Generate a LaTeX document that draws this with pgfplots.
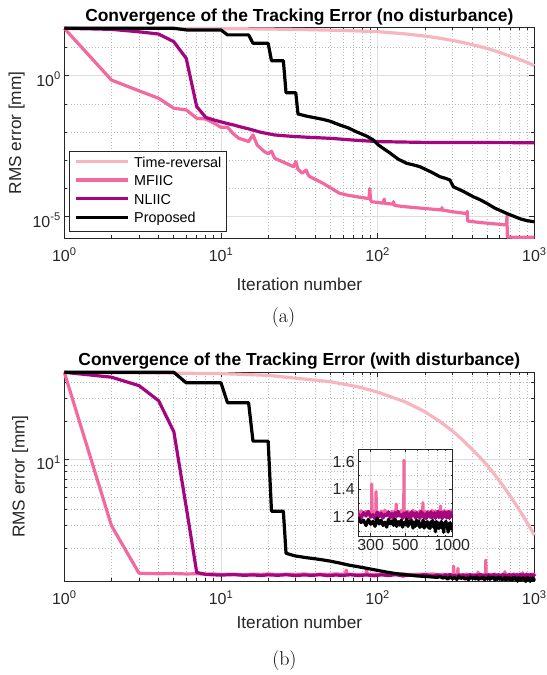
\documentclass[border=0pt]{standalone}
\usepackage{fontspec}
\newfontfamily\arialfont{Liberation Sans}
\usepackage{pgfplots}
\usepackage{pgfplotstable}
\pgfplotsset{compat=1.18}

\definecolor{trcol}{HTML}{F7B5C0}
\definecolor{mfcol}{HTML}{F2689F}
\definecolor{nlcol}{HTML}{A5067F}
\definecolor{axcol}{HTML}{262626}

% (b) series, shared by the main axis and the inset
\pgfplotstableread{
x y
1 48.4
2 3.0
3 1.265
4 1.255
5 1.26
6 1.25
7 1.255
8 1.245
9 1.25
10 1.24
12 1.245
14 1.235
16 1.245
18 1.24
20 1.25
23 1.235
26 1.245
30 1.24
34 1.25
38 1.235
43 1.245
48 1.24
54 1.25
62 1.24
63 1.34
64 1.24
67 1.245
75 1.235
84 1.24
85 1.33
86 1.24
95 1.245
105 1.235
118 1.245
130 1.24
145 1.25
160 1.235
180 1.245
200 1.24
225 1.25
240 1.235
250 1.214
260 1.246
270 1.224
280 1.242
290 1.218
300 1.236
304 1.23
305 1.44
306 1.23
310 1.248
320 1.220
324 1.23
325 1.385
326 1.23
330 1.240
340 1.214
350 1.244
360 1.226
370 1.250
380 1.228
390 1.234
400 1.216
410 1.242
420 1.222
430 1.246
436 1.23
437 1.295
438 1.23
440 1.220
450 1.238
460 1.214
470 1.248
480 1.230
489 1.23
490 1.61
491 1.23
500 1.240
510 1.218
520 1.244
530 1.224
540 1.236
550 1.216
560 1.250
570 1.226
580 1.242
590 1.220
600 1.234
610 1.214
620 1.246
630 1.228
640 1.240
647 1.23
648 1.305
649 1.23
650 1.222
660 1.248
670 1.218
680 1.238
690 1.224
700 1.244
710 1.216
720 1.236
730 1.226
740 1.250
750 1.220
760 1.242
770 1.230
780 1.246
790 1.214
800 1.238
810 1.222
820 1.248
830 1.228
839 1.23
840 1.28
841 1.23
850 1.244
860 1.218
870 1.234
880 1.224
890 1.250
900 1.216
910 1.240
920 1.226
930 1.244
940 1.220
950 1.238
960 1.216
970 1.244
980 1.228
990 1.250
1000 1.222
}\mfb

\pgfplotstableread{
x y
1 48.4
2 44.3
3 38
4 28.9
5 16.5
6 4.2
7 1.285
8 1.24
9 1.23
10 1.225
12 1.235
14 1.22
16 1.228
18 1.215
20 1.23
23 1.22
26 1.232
30 1.215
34 1.228
38 1.218
43 1.233
48 1.212
54 1.226
60 1.218
67 1.232
75 1.214
85 1.228
95 1.21
105 1.23
118 1.215
130 1.235
145 1.205
160 1.228
180 1.212
200 1.236
225 1.2
240 1.23
250 1.224
260 1.191
270 1.233
280 1.209
290 1.242
300 1.200
310 1.218
320 1.188
330 1.236
340 1.203
350 1.230
360 1.194
370 1.221
380 1.212
390 1.239
400 1.197
410 1.227
420 1.188
430 1.233
440 1.206
450 1.242
460 1.209
470 1.218
480 1.191
490 1.230
500 1.200
510 1.236
520 1.197
530 1.224
540 1.188
550 1.239
560 1.212
570 1.227
580 1.194
590 1.233
600 1.203
610 1.221
620 1.191
630 1.242
640 1.206
650 1.230
660 1.197
670 1.218
680 1.188
690 1.236
700 1.209
710 1.227
720 1.200
730 1.239
740 1.194
750 1.224
760 1.203
770 1.233
780 1.191
790 1.221
800 1.206
810 1.242
820 1.197
830 1.230
840 1.212
850 1.236
860 1.188
870 1.224
880 1.200
890 1.239
900 1.209
910 1.233
920 1.194
930 1.218
940 1.203
950 1.242
960 1.191
970 1.227
980 1.206
990 1.233
1000 1.197
}\nlb

\pgfplotstableread{
x y
1 48.4
5 48.4
6 40
10 40
11 27.9
15 27.9
16 13.9
20 13.9
21 3.9
25 3.9
26 1.82
28 1.77
30 1.73
32 1.71
35 1.68
40 1.645
45 1.61
50 1.575
57 1.525
65 1.47
75 1.425
85 1.385
92 1.36
101 1.33
115 1.29
130 1.26
153 1.23
180 1.205
210 1.19
240 1.175
250 1.193
260 1.161
270 1.178
280 1.140
290 1.184
300 1.149
310 1.170
320 1.134
330 1.194
340 1.151
350 1.179
360 1.140
370 1.164
380 1.128
390 1.184
400 1.152
410 1.173
420 1.141
430 1.186
440 1.133
450 1.168
460 1.143
470 1.177
480 1.128
490 1.162
500 1.145
510 1.186
520 1.133
530 1.172
540 1.150
550 1.177
560 1.121
570 1.163
580 1.134
590 1.179
600 1.144
610 1.172
620 1.126
630 1.153
640 1.135
650 1.180
660 1.121
670 1.162
680 1.137
690 1.168
700 1.126
710 1.157
720 1.118
730 1.167
740 1.138
750 1.177
760 1.127
770 1.148
780 1.095
790 1.168
800 1.129
810 1.160
820 1.118
830 1.149
840 1.137
850 1.169
860 1.120
870 1.154
880 1.090
890 1.160
900 1.129
910 1.171
920 1.131
930 1.141
940 1.092
950 1.155
960 1.120
970 1.161
980 1.115
990 1.146
1000 1.104
}\prb

\pgfplotsset{
  mlab/.style={
    scale only axis,
    xmin=1, xmax=1000,
    clip=false,
    axis line style={axcol, line width=0.7bp},
    tick style={axcol, line width=0.7bp},
    major tick length=5bp, minor tick length=3bp,
    tick align=inside,
    xtick={1,10,100,1000},
    xticklabels={10\textsuperscript{0},10\textsuperscript{1},10\textsuperscript{2},10\textsuperscript{3}},
    minor xtick={2,3,4,5,6,7,8,9,20,30,40,50,60,70,80,90,200,300,400,500,600,700,800,900},
    grid=both,
    major grid style={draw=black!13, line width=0.7bp},
    minor grid style={draw=black!28, line width=0.7bp, dash pattern=on 0.7bp off 2.4bp},
    ticklabel style={font=\arialfont\fontsize{16}{17}\selectfont, text=axcol},
    xticklabel style={yshift=-6bp},
    yticklabel style={yshift=-3.5bp},
    every axis plot/.append style={line width=3.2bp, line join=round},
  },
}
\tikzset{
  titlefont/.style={font=\arialfont\bfseries\fontsize{17.5}{18}\selectfont},
  labfont/.style={font=\arialfont\fontsize{17.3}{18}\selectfont, text=axcol},
}

\begin{document}
\begin{tikzpicture}
\useasboundingbox (0,0) rectangle (547bp,-675bp);

% ---------- (a) no disturbance ----------
\begin{axis}[mlab, xmode=log, ymode=log,
  at={(64.3bp,-238.3bp)}, anchor=south west,
  width=470.1bp, height=211bp,
  ymin=1.71e-6, ymax=52,
  ytick={1e-5,1},
  yticklabels={10\textsuperscript{-5},10\textsuperscript{0}},
  minor ytick={1e-4,1e-3,1e-2,1e-1,10},
  legend cell align=left,
  legend style={at={(0.0106,0.4152)}, anchor=north west,
    draw=axcol, line width=0.7bp, fill=white,
    font=\arialfont\fontsize{14.4}{15}\selectfont,
    inner xsep=5bp, inner ysep=5.5bp, column sep=4.4bp, row sep=4.9bp,
    nodes={inner sep=0pt, text height=10.5bp, text depth=3.2bp}},
  legend image code/.code={\draw[#1] (0bp,2bp) -- (52bp,2bp);},
]
\addplot[trcol] coordinates {(1,48) (2,47.9) (5,47.4) (10,46.7) (20,45.2) (30,43.8) (50,41.2) (70,39.0) (100,36.4) (150,30.4) (200,25.4) (250,21.2) (300,17.85) (350,15.0) (400,12.6) (450,10.8) (500,9.2) (550,7.85) (600,6.7) (650,5.7) (700,4.94) (750,4.34) (800,3.81) (850,3.35) (900,2.94) (950,2.58) (1000,2.26)};
\addlegendentry{Time-reversal}
\addplot[mfcol] coordinates {(1,48) (2,0.70) (3,0.29) (4,0.158) (5,0.07) (6,0.061) (7,0.031) (8,0.029) (9,0.021) (10,0.0148) (11,0.015) (12,0.0086) (13,0.006) (14,0.0053) (15,0.0046) (16,0.0079) (17,0.0035) (18,0.0026) (19,0.002) (20,0.0017) (21,0.0021) (22,0.00118) (24,0.00095) (26,0.00078) (28,0.00065) (29,0.00059) (30,0.00089) (31,0.00048) (33,0.00035) (35,0.00045) (36,0.0003) (37,0.00026) (40,0.00021) (45,0.00015) (50,0.000105) (57,6.8e-5) (65,5.7e-5) (75,5.0e-5) (85,4.5e-5) (88,4.4e-5) (89,1.0e-4) (90,4.0e-5) (91,3.4e-5) (100,3.2e-5) (108,3.0e-5) (110,4.2e-5) (111,2.95e-5) (125,2.8e-5) (126,3.4e-5) (128,2.5e-5) (150,2.25e-5) (200,1.95e-5) (250,1.75e-5) (256,1.73e-5) (257,2.1e-5) (258,1.72e-5) (300,1.5e-5) (372,1.28e-5) (373,1.55e-5) (375,7.0e-6) (450,6.2e-6) (550,5.6e-6) (665,5.1e-6) (668,1.06e-5) (672,1.9e-6) (800,1.85e-6) (1000,1.85e-6)};
\addlegendentry{MFIIC}
\addplot[nlcol] coordinates {(1,48) (2,44) (3,36) (4,30) (5,16) (6,4.1) (7,0.08) (8,0.033) (9,0.027) (10,0.023) (11,0.02) (12,0.018) (13,0.0158) (15,0.013) (18,0.0098) (22,0.0079) (28,0.0071) (35,0.0066) (50,0.006) (70,0.0052) (100,0.0046) (200,0.0043) (1000,0.0042)};
\addlegendentry{NLIIC}
\addplot[black] coordinates {(1,48) (5,48) (6,42) (10,42) (11,28) (15,28) (16,14.1) (20,14.1) (21,3.4) (25,3.4) (26,0.25) (30,0.25) (31,0.044) (35,0.037) (40,0.032) (45,0.028) (50,0.024) (57,0.018) (65,0.014) (73,0.0103) (85,0.0072) (94,0.0052) (101,0.0035) (110,0.0025) (120,0.0018) (135,0.0011) (153,0.00078) (170,0.00068) (186,0.00059) (220,0.00038) (250,0.00026) (270,0.00023) (289,0.0002) (304,0.000115) (350,8e-5) (407,5.1e-5) (450,4e-5) (495,3.0e-5) (560,2e-5) (667,1.3e-5) (750,1e-5) (815,8.3e-6) (900,7.2e-6) (1000,6.6e-6)};
\addlegendentry{Proposed}
\end{axis}

% ---------- (b) with disturbance ----------
\begin{axis}[mlab, xmode=log, ymode=log,
  at={(64.3bp,-581bp)}, anchor=south west,
  width=470.1bp, height=208.7bp,
  ymin=1.1, ymax=48.4,
  ytick={10},
  yticklabels={10\textsuperscript{1}},
  minor ytick={2,3,4,5,6,7,8,9,20,30,40},
]
\addplot[trcol] coordinates {(1,48.4) (10,47.3) (20,45.8) (50,40.8) (75,37.2) (100,33.8) (150,28.3) (200,23.7) (250,19.8) (300,16.7) (350,14.1) (400,12.0) (450,10.33) (500,8.93) (550,7.74) (600,6.73) (650,5.88) (700,5.15) (750,4.53) (800,4.00) (850,3.55) (900,3.15) (950,2.82) (1000,2.52)};
\addplot[mfcol] table {\mfb};
\addplot[nlcol] table {\nlb};
\addplot[black] table {\prb};
\end{axis}

% ---------- inset ----------
\begin{axis}[xmode=log,
  at={(358.3bp,-536bp)}, anchor=south west,
  scale only axis, width=94bp, height=86.7bp,
  xmin=250, xmax=1000, ymin=1.064, ymax=1.69,
  axis background/.style={fill=white},
  axis line style={axcol, line width=0.7bp},
  tick style={axcol, line width=0.7bp},
  major tick length=3bp, minor tick length=1.5bp,
  tick align=inside,
  xtick={300,500,1000}, xticklabels={300,500,1000},
  minor xtick={400,600,700,800,900},
  ytick={1.2,1.4,1.6}, yticklabels={1.2,1.4,1.6},
  minor ytick={1.1,1.3,1.5},
  grid=both,
  major grid style={draw=black!13, line width=0.7bp},
  minor grid style={draw=black!28, line width=0.7bp, dash pattern=on 0.7bp off 2.4bp},
  ticklabel style={font=\arialfont\fontsize{16}{17}\selectfont, text=axcol},
  every axis plot/.append style={line width=3.2bp, line join=round},
]
\addplot[mfcol] table {\mfb};
\addplot[nlcol] table {\nlb};
\addplot[black] table {\prb};
\end{axis}

% ---------- texts ----------
\node[titlefont, anchor=base] at (299.35bp,-21.5bp) {Convergence of the Tracking Error (no disturbance)};
\node[labfont, anchor=base] at (299.35bp,-290.5bp) {Iteration number};
\node[labfont, anchor=base, rotate=90] at (21.1bp,-132.8bp) {RMS error [mm]};
\node[font=\fontsize{20}{22}\selectfont, anchor=base] at (283.5bp,-322.5bp) {(a)};

\node[titlefont, anchor=base] at (299.35bp,-365bp) {Convergence of the Tracking Error (with disturbance)};
\node[labfont, anchor=base] at (299.35bp,-628bp) {Iteration number};
\node[labfont, anchor=base, rotate=90] at (24.6bp,-476.7bp) {RMS error [mm]};
\node[font=\fontsize{20}{22}\selectfont, anchor=base] at (284.4bp,-665bp) {(b)};
\end{tikzpicture}
\end{document}
